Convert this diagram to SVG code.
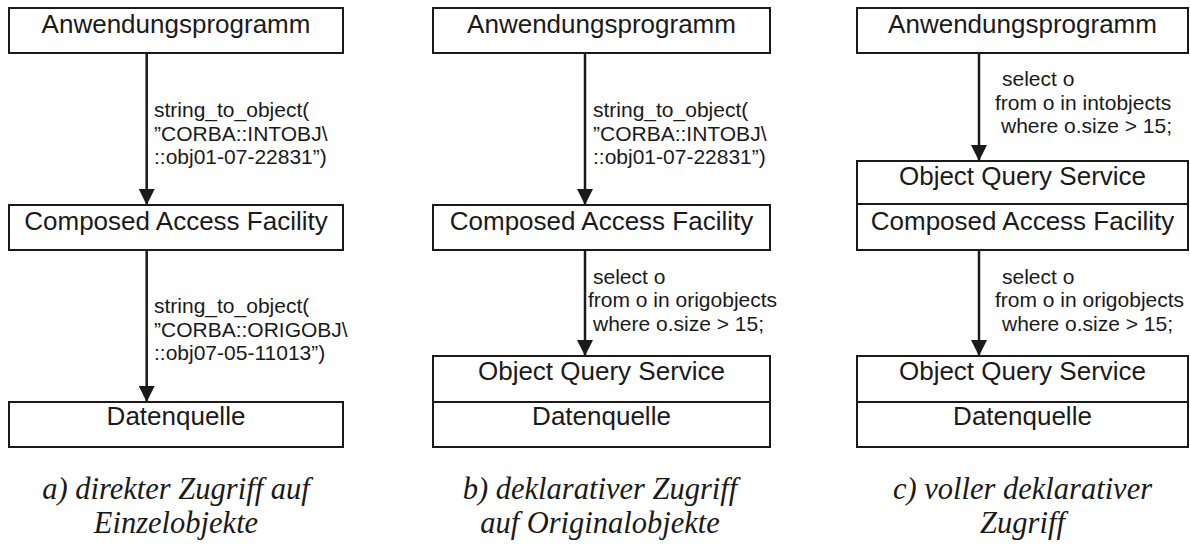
<svg xmlns="http://www.w3.org/2000/svg" width="1190" height="548" viewBox="0 0 1190 548">
<defs>
<style>
.box{fill:#fff;stroke:#1a1a1a;stroke-width:2}
.div{stroke:#1a1a1a;stroke-width:2}
.t{font-family:"Liberation Sans",Arial,sans-serif;font-size:26px;fill:#1a1a1a;text-anchor:middle}
.l{font-family:"Liberation Sans",Arial,sans-serif;font-size:21px;fill:#1a1a1a}
.cap{font-family:"Liberation Serif","Times New Roman",serif;font-style:italic;font-size:30.5px;fill:#1a1a1a;text-anchor:middle}
.edge{stroke:#1a1a1a;stroke-width:2.5;fill:none;marker-end:url(#ah)}
</style>
<marker id="ah" viewBox="0 0 16 16" refX="16" refY="8" markerWidth="16" markerHeight="16" markerUnits="userSpaceOnUse" orient="auto">
<path d="M0,0 L16,8 L0,16 z" fill="#1a1a1a"/>
</marker>
</defs>

<g id="connectors">
<line class="edge" x1="146.7" y1="53" x2="146.7" y2="205"/>
<line class="edge" x1="146.7" y1="250" x2="146.7" y2="402"/>
<line class="edge" x1="585" y1="53" x2="585" y2="205"/>
<line class="edge" x1="585" y1="250" x2="585" y2="356"/>
<line class="edge" x1="979" y1="53" x2="979" y2="161"/>
<line class="edge" x1="979" y1="250" x2="979" y2="356"/>
</g>

<g id="labels">
<text class="l" x="154" y="117">string_to_object(</text>
<text class="l" x="154" y="140.5">”CORBA::INTOBJ\</text>
<text class="l" x="154" y="164">::obj01-07-22831”)</text>
<text class="l" x="154" y="313">string_to_object(</text>
<text class="l" x="154" y="336.5">”CORBA::ORIGOBJ\</text>
<text class="l" x="154" y="360">::obj07-05-11013”)</text>

<text class="l" x="593" y="117">string_to_object(</text>
<text class="l" x="593" y="140.5">”CORBA::INTOBJ\</text>
<text class="l" x="593" y="164">::obj01-07-22831”)</text>
<text class="l" x="593" y="283.5">select o</text>
<text class="l" x="588" y="307">from o in origobjects</text>
<text class="l" x="593" y="330.5">where o.size &gt; 15;</text>

<text class="l" x="1002" y="86">select o</text>
<text class="l" x="995" y="109.5">from o in intobjects</text>
<text class="l" x="1001" y="133">where o.size &gt; 15;</text>
<text class="l" x="1002" y="283.5">select o</text>
<text class="l" x="995" y="307">from o in origobjects</text>
<text class="l" x="1002" y="330.5">where o.size &gt; 15;</text>
</g>

<g id="a-anwendung"><rect class="box" x="9" y="8" width="334" height="45"/><text class="t" x="176" y="33">Anwendungsprogramm</text></g>
<g id="a-caf"><rect class="box" x="9" y="205" width="334" height="45"/><text class="t" x="176" y="230">Composed Access Facility</text></g>
<g id="a-daten"><rect class="box" x="9" y="402" width="334" height="45"/><text class="t" x="176" y="425">Datenquelle</text></g>

<g id="b-anwendung"><rect class="box" x="433" y="8" width="337" height="45"/><text class="t" x="601.5" y="33">Anwendungsprogramm</text></g>
<g id="b-caf"><rect class="box" x="433" y="205" width="337" height="45"/><text class="t" x="601.5" y="230">Composed Access Facility</text></g>
<g id="b-oqs-daten"><rect class="box" x="433" y="356" width="337" height="91"/><line class="div" x1="433" y1="402" x2="770" y2="402"/><text class="t" x="601.5" y="380">Object Query Service</text><text class="t" x="601.5" y="425">Datenquelle</text></g>

<g id="c-anwendung"><rect class="box" x="857" y="8" width="331" height="45"/><text class="t" x="1022.5" y="33">Anwendungsprogramm</text></g>
<g id="c-oqs-caf"><rect class="box" x="857" y="161" width="331" height="89"/><line class="div" x1="857" y1="204" x2="1188" y2="204"/><text class="t" x="1022.5" y="185">Object Query Service</text><text class="t" x="1022.5" y="230">Composed Access Facility</text></g>
<g id="c-oqs-daten"><rect class="box" x="857" y="356" width="331" height="91"/><line class="div" x1="857" y1="402" x2="1188" y2="402"/><text class="t" x="1022.5" y="380">Object Query Service</text><text class="t" x="1022.5" y="425">Datenquelle</text></g>

<g id="captions">
<text class="cap" x="176" y="499">a) direkter Zugriff auf</text>
<text class="cap" x="176" y="533">Einzelobjekte</text>
<text class="cap" x="600" y="499">b) deklarativer Zugriff</text>
<text class="cap" x="600" y="533">auf Originalobjekte</text>
<text class="cap" x="1022.5" y="499">c) voller deklarativer</text>
<text class="cap" x="1022.5" y="533">Zugriff</text>
</g>
</svg>
